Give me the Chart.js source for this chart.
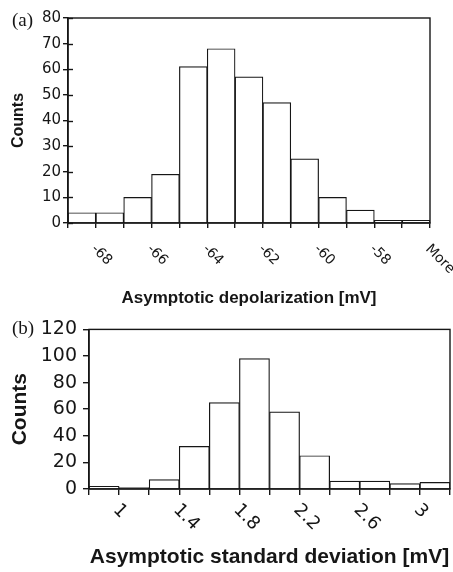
<!DOCTYPE html>
<html>
<head>
<meta charset="utf-8">
<script src="https://cdn.jsdelivr.net/npm/chart.js@4.4.0/dist/chart.umd.min.js"></script>
<style>
  body { margin: 0; background: #fff; }
  .panel { position: absolute; left: 0; }
</style>
</head>
<body>
<div class="panel" style="top:0"><canvas id="chartA" width="453" height="312"></canvas></div>
<div class="panel" style="top:312px"><canvas id="chartB" width="453" height="260"></canvas></div>
<script>
// (a) asymptotic depolarization, 1 mV bins starting at -69 mV, last bin is "More"
const depolCounts = [4, 4, 10, 19, 61, 68, 57, 47, 25, 10, 5, 1, 1];
const depolTickLabels = ['-68', '-66', '-64', '-62', '-60', '-58', 'More'];

// (b) asymptotic standard deviation, 0.2 mV bins starting at 0.8 mV
const sdCounts = [2, 1, 7, 32, 65, 98, 58, 25, 6, 6, 4, 5];
const sdTickLabels = ['1', '1.4', '1.8', '2.2', '2.6', '3'];

const ink = '#161616';

// box around the plot, slanted labels on every other bin edge, panel letter
const frameAndLabels = {
  id: 'frameAndLabels',
  afterDraw(chart, args, opts) {
    const { ctx, chartArea: a, scales: { x, y } } = chart;
    ctx.save();
    ctx.strokeStyle = ink;
    ctx.lineWidth = 1.4;
    ctx.strokeRect(a.left, a.top, a.right - a.left, a.bottom - a.top);

    if (opts.innerTicks) {
      y.ticks.forEach(t => {
        const py = Math.round(y.getPixelForValue(t.value)) + 0.5;
        ctx.beginPath();
        ctx.moveTo(a.left, py);
        ctx.lineTo(a.left + opts.innerTicks, py);
        ctx.stroke();
      });
    }

    ctx.fillStyle = ink;
    ctx.font = opts.font;
    ctx.textAlign = 'left';
    ctx.textBaseline = 'alphabetic';
    opts.labels.forEach((txt, i) => {
      const px = x.getPixelForValue(1 + 2 * i);
      ctx.save();
      ctx.translate(px + opts.dx, a.bottom + opts.dy);
      ctx.rotate(Math.PI / 4);
      ctx.fillText(txt, 0, 0);
      ctx.restore();
    });

    ctx.font = opts.panelFont;
    ctx.textBaseline = 'middle';
    ctx.fillText(opts.panel, opts.panelX, opts.panelY);
    ctx.restore();
  }
};

function histogram(id, counts, s) {
  return new Chart(document.getElementById(id), {
    type: 'bar',
    data: {
      datasets: [{
        data: counts.map((c, i) => ({ x: i + 0.5, y: c })),
        backgroundColor: '#fff',
        borderColor: ink,
        borderWidth: 1.2,
        barPercentage: 1,
        categoryPercentage: 1
      }]
    },
    options: {
      responsive: false,
      animation: false,
      events: [],
      layout: { padding: s.padding },
      plugins: {
        legend: { display: false },
        tooltip: { enabled: false },
        frameAndLabels: {
          labels: s.labels, font: s.labelFont, dx: s.dx, dy: s.dy,
          innerTicks: s.innerTicks,
          panel: s.panel, panelFont: s.panelFont, panelX: 12, panelY: s.panelY
        }
      },
      scales: {
        x: {
          type: 'linear',
          min: 0,
          max: counts.length,
          offset: false,
          afterFit: sc => { sc.height = s.xHeight; },
          grid: { drawOnChartArea: false, offset: false, tickLength: s.tick, color: ink, lineWidth: 1.4 },
          border: { color: ink, width: 1.5 },
          ticks: { stepSize: 1, autoSkip: false, maxRotation: 0, maxTicksLimit: 30, callback: () => '' },
          title: {
            display: true,
            text: s.xTitle,
            color: ink,
            font: { family: 'Liberation Sans', weight: 'bold', size: s.xTitleSize },
            padding: { top: 0, bottom: s.xTitlePad }
          }
        },
        y: {
          min: 0,
          max: s.yMax,
          afterFit: sc => { sc.width = s.yWidth; },
          grid: { drawOnChartArea: false, tickLength: s.tick, color: ink, lineWidth: 1.4 },
          border: { color: ink, width: 1.5 },
          ticks: {
            stepSize: s.yStep,
            padding: s.yPad,
            color: ink,
            font: { family: 'DejaVu Sans', size: s.yFont }
          },
          title: {
            display: true,
            text: 'Counts',
            color: ink,
            font: { family: 'Liberation Sans', weight: 'bold', size: s.yTitleSize },
            padding: { top: s.yTitlePad, bottom: 0 }
          }
        }
      }
    },
    plugins: [frameAndLabels]
  });
}

histogram('chartA', depolCounts, {
  padding: { top: 18, right: 23, bottom: 0, left: 0 },
  xHeight: 89, yWidth: 68, tick: 5, yPad: 2, yFont: 15,
  yMax: 80, yStep: 10,
  xTitleSize: 17, yTitleSize: 16,
  xTitle: 'Asymptotic depolarization [mV]', xTitlePad: 3, yTitlePad: 9,
  labels: depolTickLabels, labelFont: '14px "DejaVu Sans"', dx: -5, dy: 26.5,
  innerTicks: 5,
  panel: '(a)', panelFont: '19px "Liberation Serif"', panelY: 21
});

histogram('chartB', sdCounts, {
  padding: { top: 16, right: 1, bottom: 0, left: 0 },
  xHeight: 83, yWidth: 89, tick: 6, yPad: 6, yFont: 19,
  yMax: 120, yStep: 20,
  xTitleSize: 21, yTitleSize: 21,
  xTitle: 'Asymptotic standard deviation [mV]', xTitlePad: 2, yTitlePad: 8,
  labels: sdTickLabels, labelFont: '18px "DejaVu Sans"', dx: -6.5, dy: 21.5,
  innerTicks: 0,
  panel: '(b)', panelFont: '19px "Liberation Serif"', panelY: 17.5
});
</script>
</body>
</html>
